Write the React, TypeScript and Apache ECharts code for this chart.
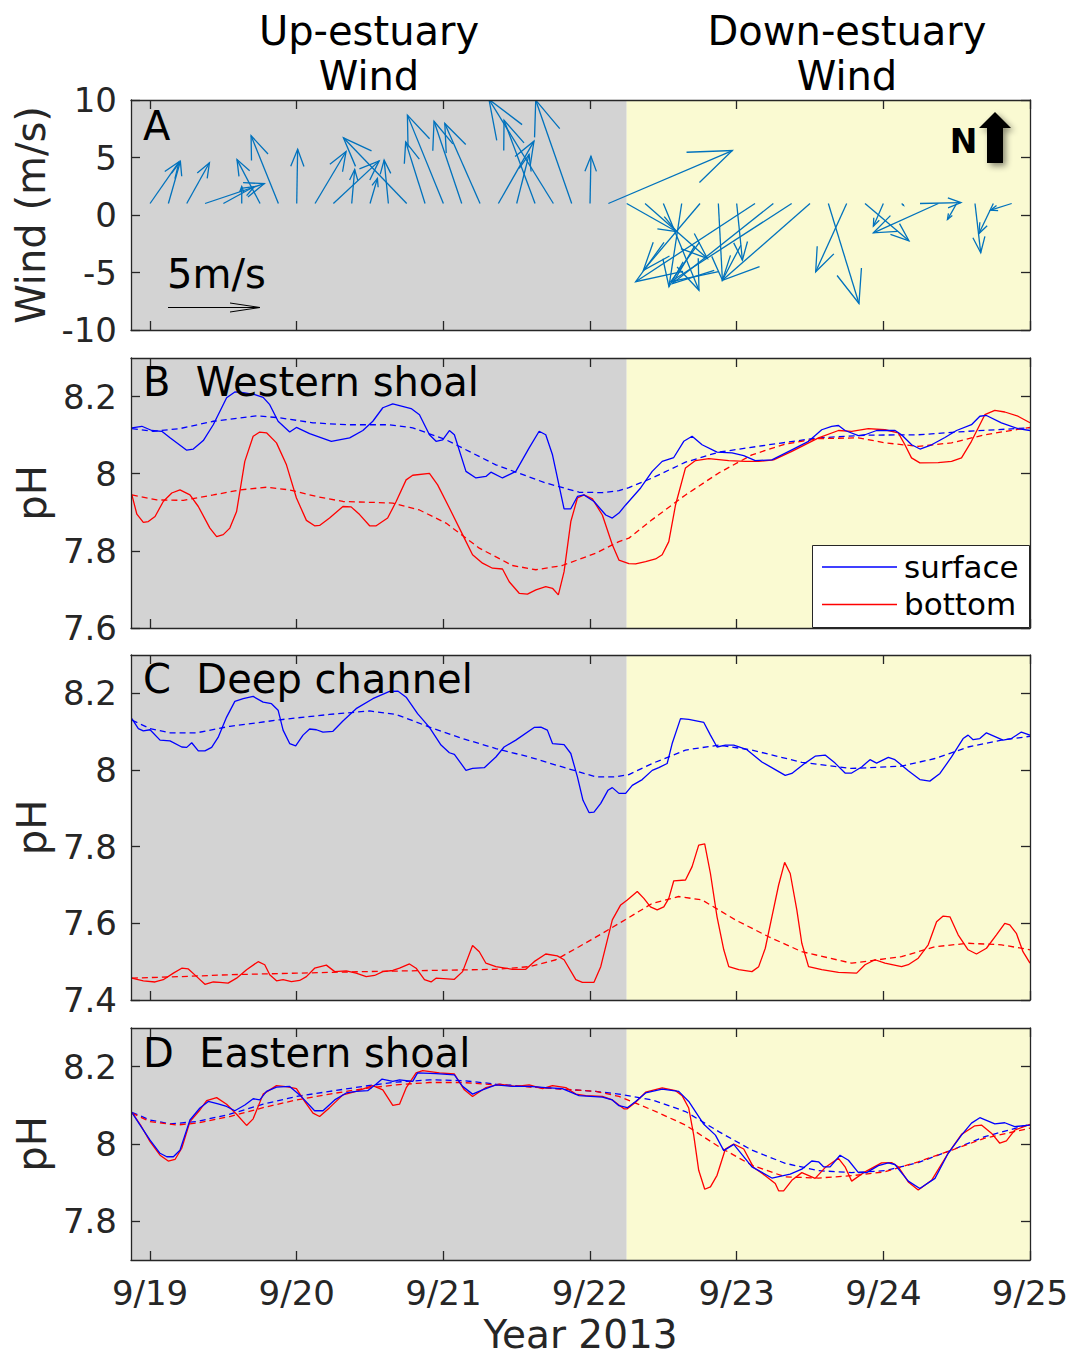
import React, { useEffect, useRef } from "react";
import * as echarts from "echarts";

// ---------- axes ----------
const X_MIN = 18.87;
const X_MAX = 25;
const SHIFT_T = 22.25; // change from up-estuary to down-estuary wind
const dayTicks = [19, 20, 21, 22, 23, 24, 25];
const yRanges = [[-10, 10], [7.6, 8.3], [7.4, 8.3], [7.7, 8.3]];
const yTicks = [[-10, -5, 0, 5, 10], [7.6, 7.8, 8, 8.2], [7.4, 7.6, 7.8, 8, 8.2], [7.8, 8, 8.2]];
const yNames = ["Wind (m/s)", "pH", "pH", "pH"];
const panelLabels = ["A", "B  Western shoal", "C  Deep channel", "D  Eastern shoal"];

// ---------- wind (3-hourly, m/s) ----------
const WIND_BASE = 1;
const windTime = [
  19, 19.125, 19.25, 19.375, 19.5, 19.625, 19.75, 19.875,
  20, 20.125, 20.25, 20.375, 20.5, 20.625, 20.75, 20.875,
  21, 21.125, 21.25, 21.375, 21.5, 21.625, 21.75, 21.875,
  22, 22.125, 22.25, 22.375, 22.5, 22.625, 22.75, 22.875,
  23, 23.125, 23.25, 23.375, 23.5, 23.625, 23.75, 23.875,
  24, 24.125, 24.25, 24.375, 24.5, 24.625, 24.75, 24.875,
];
const windU = [
  1.57, 0.65, 1.23, 3.21, 1.68, 0, -1.25, -1.48, 0.05, 1.68,
  2.48, 0.16, 0.4, -0.23, -3.43, -1.05, -1.95, -1.5, -1.91, 1.93,
  0.67, -1.68, -3.49, -1.95, 0.05, 6.72,
  2.71, 3.38, 1.93, -0.69, -3.07, 0.22, 0.31, -6.47, -5.47, -6.56,
  -4.75, 1.66, -1.68, 2.38, -0.54, 0.1, 2.22, -3.52, -0.5, 0.31,
  -0.78, -1.14,
];
const windV = [
  2.26, 2.28, 2.21, 1.08, 0.92, 0.92, 2.38, 3.67, 2.94, 2.82,
  2.31, 1.84, 1.36, 2.35, 3.56, 3.34, 4.79, 4.46, 4.34, 3.38,
  2.66, 4.51, 5.64, 5.6, 2.56, 2.87,
  -1.53, -2.98, -4.7, -4.51, -3.62, -4.16, -3.07, -4.24, -4.34, -4.24,
  -4.16, -5.42, -3.7, -2.02, -1.23, -0.1, 0.05, -1.59, -0.87, -2.67,
  -1.63, -0.36,
];

// ---------- B Western shoal ----------
const bSurf = [[18.876,8.119],[18.944,8.123],[19.012,8.112],[19.080,8.110],[19.136,8.093],[19.250,8.061],[19.295,8.064],[19.363,8.086],[19.431,8.127],[19.522,8.197],[19.578,8.212],[19.635,8.210],[19.714,8.205],[19.771,8.198],[19.816,8.179],[19.873,8.136],[19.952,8.108],[19.998,8.120],[20.088,8.104],[20.236,8.084],[20.361,8.093],[20.451,8.112],[20.519,8.136],[20.587,8.171],[20.655,8.181],[20.780,8.169],[20.837,8.153],[20.905,8.101],[20.950,8.084],[20.995,8.088],[21.041,8.112],[21.075,8.101],[21.154,8.006],[21.222,7.989],[21.290,7.993],[21.324,8.004],[21.403,7.989],[21.494,8.006],[21.585,8.067],[21.653,8.110],[21.698,8.101],[21.744,8.049],[21.823,7.909],[21.869,7.909],[21.914,7.941],[21.959,7.945],[22.027,7.928],[22.107,7.893],[22.152,7.885],[22.197,7.898],[22.243,7.919],[22.345,7.963],[22.424,8.006],[22.492,8.032],[22.571,8.042],[22.639,8.084],[22.696,8.097],[22.764,8.075],[22.866,8.056],[22.968,8.054],[23.048,8.047],[23.127,8.034],[23.240,8.036],[23.376,8.062],[23.490,8.084],[23.580,8.114],[23.648,8.123],[23.694,8.125],[23.739,8.112],[23.830,8.099],[23.875,8.101],[23.954,8.112],[24.080,8.112],[24.124,8.101],[24.193,8.075],[24.250,8.064],[24.329,8.075],[24.420,8.094],[24.499,8.112],[24.601,8.127],[24.658,8.149],[24.703,8.151],[24.805,8.132],[24.918,8.117],[25.0,8.112]];
const bSurfTrend = [[18.876,8.117],[19.022,8.110],[19.204,8.117],[19.431,8.136],[19.726,8.150],[19.884,8.145],[20.111,8.132],[20.338,8.127],[20.633,8.127],[20.791,8.119],[21.018,8.088],[21.358,8.023],[21.698,7.976],[21.925,7.952],[22.084,7.951],[22.197,7.956],[22.265,7.964],[22.424,7.989],[22.651,8.030],[22.878,8.056],[23.218,8.075],[23.558,8.093],[23.898,8.100],[24.238,8.101],[24.578,8.110],[25.0,8.119]];
const bBot = [[18.876,7.945],[18.910,7.895],[18.954,7.874],[18.988,7.876],[19.034,7.889],[19.090,7.928],[19.148,7.950],[19.204,7.958],[19.272,7.945],[19.329,7.915],[19.408,7.859],[19.454,7.837],[19.499,7.842],[19.544,7.859],[19.590,7.902],[19.646,8.032],[19.703,8.097],[19.748,8.108],[19.794,8.106],[19.862,8.080],[19.930,8.023],[19.998,7.937],[20.066,7.879],[20.122,7.865],[20.156,7.866],[20.224,7.885],[20.315,7.915],[20.371,7.914],[20.429,7.894],[20.497,7.865],[20.542,7.865],[20.620,7.885],[20.678,7.928],[20.746,7.984],[20.791,7.996],[20.905,8.001],[20.961,7.971],[21.041,7.911],[21.131,7.842],[21.199,7.790],[21.267,7.768],[21.335,7.755],[21.403,7.753],[21.449,7.720],[21.517,7.690],[21.573,7.688],[21.631,7.699],[21.698,7.707],[21.744,7.703],[21.784,7.686],[21.823,7.746],[21.869,7.876],[21.914,7.937],[21.959,7.945],[22.016,7.935],[22.084,7.893],[22.152,7.816],[22.197,7.776],[22.265,7.767],[22.311,7.766],[22.379,7.772],[22.447,7.779],[22.492,7.790],[22.537,7.824],[22.583,7.919],[22.651,8.015],[22.719,8.034],[22.810,8.039],[22.946,8.034],[23.059,8.032],[23.150,8.032],[23.252,8.036],[23.376,8.058],[23.558,8.093],[23.694,8.112],[23.784,8.110],[23.898,8.117],[24.011,8.114],[24.102,8.106],[24.147,8.075],[24.192,8.041],[24.249,8.028],[24.374,8.029],[24.465,8.032],[24.533,8.041],[24.601,8.084],[24.692,8.153],[24.760,8.164],[24.828,8.160],[24.918,8.149],[25.0,8.132]];
const bBotTrend = [[18.876,7.945],[19.046,7.932],[19.227,7.931],[19.431,7.945],[19.612,7.958],[19.794,7.965],[19.952,7.958],[20.134,7.941],[20.315,7.928],[20.655,7.924],[20.837,7.906],[21.018,7.872],[21.245,7.807],[21.471,7.762],[21.631,7.751],[21.811,7.762],[22.039,7.794],[22.197,7.824],[22.265,7.833],[22.424,7.881],[22.651,7.945],[22.878,8.002],[23.104,8.049],[23.331,8.077],[23.558,8.091],[23.830,8.093],[24.011,8.080],[24.238,8.071],[24.465,8.080],[24.692,8.101],[25.0,8.120]];

// ---------- C Deep channel ----------
const cSurf = [[18.876,8.134],[18.920,8.108],[18.954,8.102],[19.000,8.105],[19.068,8.078],[19.136,8.076],[19.216,8.060],[19.250,8.059],[19.284,8.071],[19.329,8.050],[19.374,8.050],[19.420,8.059],[19.464,8.085],[19.522,8.138],[19.578,8.179],[19.635,8.186],[19.703,8.192],[19.771,8.177],[19.828,8.173],[19.873,8.156],[19.907,8.104],[19.952,8.069],[19.993,8.063],[20.043,8.091],[20.088,8.107],[20.134,8.105],[20.179,8.099],[20.247,8.101],[20.315,8.128],[20.405,8.160],[20.519,8.186],[20.633,8.205],[20.689,8.206],[20.746,8.190],[20.824,8.147],[20.905,8.111],[20.984,8.065],[21.041,8.045],[21.075,8.041],[21.154,7.999],[21.199,8.004],[21.279,8.006],[21.358,8.034],[21.414,8.060],[21.494,8.078],[21.619,8.111],[21.665,8.112],[21.709,8.104],[21.744,8.069],[21.823,8.066],[21.869,8.043],[21.914,7.982],[21.952,7.921],[21.993,7.889],[22.027,7.890],[22.073,7.913],[22.122,7.947],[22.152,7.954],[22.197,7.939],[22.243,7.939],[22.288,7.960],[22.356,7.975],[22.424,7.999],[22.469,8.006],[22.526,8.017],[22.560,8.069],[22.617,8.134],[22.673,8.132],[22.776,8.124],[22.821,8.091],[22.866,8.060],[22.923,8.065],[22.980,8.065],[23.070,8.053],[23.172,8.021],[23.263,8.001],[23.331,7.986],[23.376,7.991],[23.467,8.018],[23.535,8.036],[23.603,8.039],[23.671,8.018],[23.739,7.992],[23.784,7.992],[23.852,8.008],[23.909,8.027],[23.954,8.018],[24.034,8.033],[24.079,8.027],[24.170,7.998],[24.249,7.975],[24.317,7.971],[24.386,7.991],[24.465,8.034],[24.544,8.082],[24.578,8.091],[24.612,8.079],[24.658,8.082],[24.703,8.097],[24.816,8.078],[24.873,8.082],[24.941,8.099],[25.0,8.091]];
const cSurfTrend = [[18.876,8.130],[19.000,8.108],[19.136,8.097],[19.318,8.097],[19.544,8.114],[19.884,8.131],[20.224,8.145],[20.497,8.154],[20.678,8.145],[20.905,8.112],[21.131,8.082],[21.358,8.056],[21.585,8.034],[21.811,8.008],[22.039,7.982],[22.175,7.982],[22.265,7.988],[22.424,8.017],[22.651,8.052],[22.878,8.065],[23.104,8.052],[23.444,8.020],[23.784,8.004],[24.124,8.010],[24.352,8.030],[24.578,8.060],[24.805,8.078],[25.0,8.088]];
const cBot = [[18.876,7.457],[18.954,7.450],[19.034,7.447],[19.090,7.453],[19.159,7.470],[19.216,7.483],[19.261,7.481],[19.318,7.461],[19.374,7.441],[19.431,7.447],[19.476,7.446],[19.532,7.444],[19.590,7.457],[19.658,7.479],[19.737,7.500],[19.782,7.492],[19.816,7.466],[19.862,7.450],[19.907,7.453],[19.964,7.448],[20.020,7.451],[20.066,7.461],[20.122,7.483],[20.202,7.491],[20.259,7.474],[20.338,7.476],[20.405,7.470],[20.474,7.461],[20.531,7.464],[20.587,7.474],[20.655,7.477],[20.701,7.483],[20.769,7.494],[20.814,7.483],[20.871,7.453],[20.916,7.447],[20.950,7.457],[21.075,7.454],[21.131,7.474],[21.199,7.542],[21.245,7.526],[21.290,7.496],[21.358,7.487],[21.471,7.480],[21.562,7.480],[21.619,7.500],[21.698,7.520],[21.777,7.515],[21.823,7.505],[21.903,7.453],[21.948,7.446],[22.027,7.446],[22.073,7.487],[22.152,7.609],[22.209,7.648],[22.254,7.661],[22.322,7.683],[22.367,7.665],[22.412,7.643],[22.458,7.635],[22.503,7.643],[22.537,7.665],[22.571,7.711],[22.651,7.713],[22.696,7.748],[22.741,7.804],[22.782,7.807],[22.821,7.730],[22.866,7.617],[22.912,7.531],[22.946,7.487],[23.014,7.479],[23.104,7.474],[23.150,7.487],[23.195,7.535],[23.240,7.617],[23.286,7.700],[23.327,7.759],[23.365,7.730],[23.410,7.635],[23.444,7.548],[23.490,7.487],[23.580,7.479],[23.694,7.472],[23.818,7.470],[23.875,7.492],[23.943,7.505],[24.011,7.496],[24.124,7.487],[24.170,7.492],[24.238,7.509],[24.306,7.544],[24.363,7.604],[24.408,7.619],[24.454,7.617],[24.510,7.570],[24.578,7.531],[24.635,7.520],[24.703,7.535],[24.771,7.570],[24.828,7.600],[24.862,7.596],[24.907,7.574],[24.952,7.526],[25.0,7.496]];
const cBotTrend = [[18.876,7.457],[19.204,7.461],[19.544,7.466],[19.998,7.470],[20.451,7.474],[20.905,7.477],[21.358,7.480],[21.585,7.487],[21.767,7.505],[21.925,7.539],[22.084,7.574],[22.243,7.610],[22.424,7.652],[22.605,7.670],[22.764,7.661],[22.991,7.609],[23.218,7.565],[23.444,7.526],[23.784,7.496],[24.124,7.513],[24.352,7.539],[24.578,7.548],[24.805,7.544],[25.0,7.531]];

// ---------- D Eastern shoal ----------
const dSurf = [[18.876,8.082],[18.932,8.049],[19.000,8.010],[19.068,7.976],[19.114,7.967],[19.159,7.967],[19.204,7.984],[19.272,8.062],[19.340,8.093],[19.397,8.110],[19.464,8.104],[19.522,8.097],[19.578,8.086],[19.646,8.101],[19.703,8.117],[19.748,8.114],[19.794,8.136],[19.862,8.147],[19.952,8.149],[20.020,8.127],[20.122,8.086],[20.179,8.086],[20.259,8.114],[20.338,8.132],[20.405,8.136],[20.484,8.138],[20.542,8.155],[20.582,8.168],[20.655,8.162],[20.701,8.166],[20.791,8.162],[20.824,8.184],[20.950,8.182],[21.075,8.179],[21.131,8.149],[21.199,8.129],[21.267,8.140],[21.358,8.153],[21.471,8.149],[21.585,8.149],[21.698,8.146],[21.811,8.143],[21.925,8.125],[22.084,8.121],[22.152,8.114],[22.197,8.099],[22.254,8.094],[22.311,8.110],[22.379,8.132],[22.492,8.142],[22.605,8.136],[22.673,8.110],[22.776,8.051],[22.855,8.023],[22.912,7.983],[22.980,7.999],[23.104,7.941],[23.240,7.912],[23.365,7.922],[23.444,7.935],[23.512,7.956],[23.558,7.954],[23.592,7.941],[23.637,7.941],[23.705,7.971],[23.762,7.958],[23.830,7.926],[23.886,7.926],[23.966,7.944],[24.034,7.951],[24.079,7.947],[24.170,7.904],[24.249,7.885],[24.352,7.911],[24.442,7.976],[24.533,8.023],[24.601,8.054],[24.658,8.068],[24.760,8.052],[24.828,8.055],[24.896,8.045],[25.0,8.049]];
const dSurfTrend = [[18.876,8.082],[19.000,8.062],[19.136,8.052],[19.318,8.058],[19.544,8.077],[19.771,8.103],[19.998,8.123],[20.224,8.136],[20.451,8.149],[20.678,8.160],[20.905,8.166],[21.131,8.164],[21.358,8.155],[21.698,8.145],[22.039,8.136],[22.197,8.129],[22.424,8.114],[22.651,8.084],[22.878,8.032],[23.104,7.984],[23.331,7.950],[23.558,7.931],[23.784,7.926],[24.011,7.931],[24.238,7.952],[24.465,7.984],[24.692,8.019],[25.0,8.051]];
const dBot = [[18.876,8.082],[18.932,8.051],[19.000,8.006],[19.068,7.971],[19.124,7.956],[19.170,7.960],[19.216,7.989],[19.272,8.058],[19.340,8.088],[19.386,8.112],[19.454,8.120],[19.522,8.103],[19.590,8.077],[19.658,8.048],[19.703,8.065],[19.771,8.129],[19.862,8.151],[19.940,8.148],[19.998,8.143],[20.054,8.110],[20.111,8.080],[20.156,8.071],[20.224,8.094],[20.315,8.127],[20.405,8.136],[20.519,8.151],[20.587,8.140],[20.655,8.100],[20.701,8.103],[20.746,8.145],[20.814,8.184],[20.859,8.190],[20.973,8.184],[21.075,8.181],[21.143,8.140],[21.199,8.123],[21.290,8.146],[21.381,8.155],[21.494,8.149],[21.585,8.153],[21.676,8.143],[21.744,8.151],[21.835,8.146],[21.903,8.129],[21.971,8.125],[22.084,8.123],[22.152,8.114],[22.231,8.091],[22.254,8.091],[22.311,8.108],[22.379,8.134],[22.492,8.145],[22.583,8.138],[22.628,8.125],[22.673,8.093],[22.707,8.023],[22.741,7.932],[22.782,7.883],[22.821,7.889],[22.866,7.919],[22.923,7.987],[22.980,8.000],[23.048,7.987],[23.116,7.939],[23.195,7.918],[23.263,7.898],[23.286,7.879],[23.320,7.879],[23.376,7.906],[23.444,7.926],[23.535,7.911],[23.603,7.939],[23.694,7.963],[23.739,7.941],[23.784,7.904],[23.875,7.928],[23.988,7.951],[24.056,7.952],[24.102,7.941],[24.170,7.902],[24.238,7.881],[24.329,7.906],[24.442,7.976],[24.533,8.025],[24.624,8.047],[24.669,8.049],[24.737,8.028],[24.794,8.002],[24.839,8.008],[24.896,8.036],[25.0,8.051]];
const dBotTrend = [[18.876,8.080],[19.000,8.058],[19.182,8.049],[19.318,8.054],[19.544,8.071],[19.771,8.094],[19.998,8.114],[20.224,8.129],[20.451,8.143],[20.678,8.153],[20.905,8.159],[21.131,8.159],[21.358,8.153],[21.698,8.145],[22.039,8.136],[22.197,8.123],[22.424,8.088],[22.651,8.049],[22.878,7.993],[23.104,7.945],[23.331,7.915],[23.558,7.912],[23.784,7.918],[24.011,7.928],[24.238,7.954],[24.465,7.984],[24.692,8.015],[25.0,8.041]];

const panelSeries = [
  { surf: bSurf, bot: bBot, surfTrend: bSurfTrend, botTrend: bBotTrend },
  { surf: cSurf, bot: cBot, surfTrend: cSurfTrend, botTrend: cBotTrend },
  { surf: dSurf, bot: dBot, surfTrend: dSurfTrend, botTrend: dBotTrend },
];

// ---------- styles ----------
const FONT = "DejaVu Sans";
const AXIS_COLOR = "#262626";
const SHADE = ["#d3d3d3", "#fafad2"];
const BLUE = "#0000ff";
const RED = "#ff0000";
const QUIVER = "#0072bd";
const WIND_PX_PER_MS = 18.45;

const grids = [
  { left: 131, top: 100, width: 899, height: 230 },
  { left: 131, top: 358, width: 899, height: 270 },
  { left: 131, top: 655, width: 899, height: 345 },
  { left: 131, top: 1028, width: 899, height: 232 },
];

function buildOption() {
  const axisLine = { show: true, onZero: false, lineStyle: { color: AXIS_COLOR, width: 1.3 } };
  const tick = (vals: number[]) => ({
    show: true, inside: true, length: 9, customValues: vals,
    lineStyle: { color: AXIS_COLOR, width: 1.3 },
  });
  const xAxis: any[] = [];
  const yAxis: any[] = [];
  grids.forEach((_, i) => {
    xAxis.push({
      type: "value", gridIndex: i, min: X_MIN, max: X_MAX, position: "bottom", z: 5,
      axisLine, axisTick: tick(dayTicks), splitLine: { show: false },
      axisLabel: {
        show: i === 3, customValues: dayTicks, margin: 16, fontSize: 34, fontFamily: FONT, color: AXIS_COLOR,
        formatter: (v: number) => "9/" + Math.round(v),
      },
      name: i === 3 ? "Year 2013" : "", nameLocation: "middle", nameGap: 55,
      nameTextStyle: { fontSize: 39, lineHeight: 39, fontFamily: FONT, color: AXIS_COLOR },
    });
  });
  grids.forEach((_, i) => {
    xAxis.push({
      type: "value", gridIndex: i, min: X_MIN, max: X_MAX, position: "top", z: 5,
      axisLine, axisTick: tick(dayTicks), splitLine: { show: false }, axisLabel: { show: false },
    });
  });
  grids.forEach((_, i) => {
    yAxis.push({
      type: "value", gridIndex: i, min: yRanges[i][0], max: yRanges[i][1], position: "left", z: 5,
      axisLine, axisTick: tick(yTicks[i]), splitLine: { show: false },
      axisLabel: {
        show: true, customValues: yTicks[i], margin: 14, fontSize: 34, fontFamily: FONT, color: AXIS_COLOR,
        formatter: (v: number) => String(Number(v.toFixed(1))),
      },
      name: yNames[i], nameLocation: "middle", nameGap: i === 0 ? 80 : 76,
      nameTextStyle: { fontSize: 40, fontFamily: FONT, color: AXIS_COLOR },
    });
  });
  grids.forEach((_, i) => {
    yAxis.push({
      type: "value", gridIndex: i, min: yRanges[i][0], max: yRanges[i][1], position: "right", z: 5,
      axisLine, axisTick: tick(yTicks[i]), splitLine: { show: false }, axisLabel: { show: false },
    });
  });

  const series: any[] = [];
  // background shading (up-estuary grey / down-estuary yellow)
  grids.forEach((_, i) => {
    series.push({
      type: "custom", xAxisIndex: i, yAxisIndex: i, z: 1, silent: true, clip: true,
      data: [[X_MIN, SHIFT_T, 0], [SHIFT_T, X_MAX, 1]],
      renderItem: (params: any, api: any) => {
        const cs = params.coordSys;
        const y0 = yRanges[i][0];
        const x0 = api.coord([api.value(0), y0])[0];
        const x1 = api.coord([api.value(1), y0])[0];
        return {
          type: "rect",
          shape: { x: x0, y: cs.y, width: x1 - x0, height: cs.height },
          style: { fill: SHADE[api.value(2)] },
        };
      },
    });
  });

  // wind quiver
  series.push({
    type: "custom", xAxisIndex: 0, yAxisIndex: 0, z: 3, silent: true, clip: true,
    data: windTime.map((t, k) => [t, windU[k], windV[k]]),
    renderItem: (_params: any, api: any) => {
      const t = api.value(0), u = api.value(1), v = api.value(2);
      const b = api.coord([t, WIND_BASE]);
      const dx = u * WIND_PX_PER_MS, dy = -v * WIND_PX_PER_MS;
      const tip = [b[0] + dx, b[1] + dy];
      const L = Math.hypot(dx, dy);
      const children: any[] = [
        { type: "line", shape: { x1: b[0], y1: b[1], x2: tip[0], y2: tip[1] }, style: { stroke: QUIVER, lineWidth: 1.3 } },
      ];
      if (L > 0.5) {
        const ang = Math.atan2(dy, dx);
        const h = 0.34 * L, a = (21 * Math.PI) / 180;
        const p1 = [tip[0] - h * Math.cos(ang - a), tip[1] - h * Math.sin(ang - a)];
        const p2 = [tip[0] - h * Math.cos(ang + a), tip[1] - h * Math.sin(ang + a)];
        children.push({ type: "polyline", shape: { points: [p1, tip, p2] }, style: { stroke: QUIVER, lineWidth: 1.3, fill: null } });
      }
      return { type: "group", children };
    },
  });

  // pH lines
  panelSeries.forEach((p, k) => {
    const gi = k + 1;
    const line = (name: string, data: number[][], color: string, dashed: boolean) => ({
      type: "line", name, xAxisIndex: gi, yAxisIndex: gi, data, z: 3, silent: true,
      symbol: "none", showSymbol: false, smooth: false, clip: true,
      lineStyle: { color, width: 1.3, type: dashed ? [6, 4] : "solid" },
      itemStyle: { color },
    });
    series.push(line("surface trend", p.surfTrend, BLUE, true));
    series.push(line("bottom trend", p.botTrend, RED, true));
    series.push(line("bottom", p.bot, RED, false));
    series.push(line("surface", p.surf, BLUE, false));
  });

  const txt = (text: string, x: number, y: number, size: number, align = "left", weight = "normal") => ({
    type: "text", x, y, z: 50, silent: true,
    style: { text, fontSize: size, fontFamily: FONT, fontWeight: weight, fill: "#000", align, verticalAlign: "middle" },
  });

  const graphics: any[] = [
    txt("Up-estuary", 369, 31, 40, "center"),
    txt("Wind", 369, 76, 40, "center"),
    txt("Down-estuary", 847, 31, 40, "center"),
    txt("Wind", 847, 76, 40, "center"),
    txt(panelLabels[0], 143, 126, 40),
    txt(panelLabels[1], 143, 382, 40),
    txt(panelLabels[2], 143, 679, 40),
    txt(panelLabels[3], 143, 1053, 40),
    // 5 m/s reference arrow
    txt("5m/s", 167, 274, 40),
    { type: "line", z: 50, shape: { x1: 168, y1: 307.5, x2: 260, y2: 307.5 }, style: { stroke: "#000", lineWidth: 1 } },
    { type: "polyline", z: 50, shape: { points: [[230, 303], [260, 307.5], [230, 312]] }, style: { stroke: "#000", lineWidth: 1, fill: null } },
    // north arrow
    txt("N", 963.5, 141, 33, "center", "bold"),
    {
      type: "polygon", z: 50,
      shape: { points: [[995, 112], [1011, 128], [1003, 128], [1003, 163], [987, 163], [987, 128], [979, 128]] },
      style: { fill: "#000", shadowBlur: 6, shadowColor: "rgba(0,0,0,0.45)", shadowOffsetX: 3, shadowOffsetY: 3 },
    },
    // legend in panel B
    { type: "rect", z: 60, shape: { x: 812.5, y: 545.5, width: 217, height: 82 }, style: { fill: "#fff", stroke: "#262626", lineWidth: 1 } },
    { type: "line", z: 61, shape: { x1: 822, y1: 567, x2: 897, y2: 567 }, style: { stroke: BLUE, lineWidth: 1.3 } },
    { type: "line", z: 61, shape: { x1: 822, y1: 604.5, x2: 897, y2: 604.5 }, style: { stroke: RED, lineWidth: 1.3 } },
    { ...txt("surface", 904, 567, 31), z: 61 },
    { ...txt("bottom", 904, 604, 31), z: 61 },
  ];

  return {
    animation: false,
    backgroundColor: "#ffffff",
    grid: grids.map((g) => ({ ...g, containLabel: false })),
    xAxis,
    yAxis,
    series,
    graphic: { elements: graphics },
  };
}

export default function App() {
  const ref = useRef<HTMLDivElement>(null);
  useEffect(() => {
    if (!ref.current) return;
    const chart = echarts.init(ref.current, null, { renderer: "svg" });
    chart.setOption(buildOption() as any);
    return () => chart.dispose();
  }, []);
  return (
    <div
      ref={ref}
      style={{ position: "absolute", left: 0, top: 0, width: 1072, height: 1357, background: "#fff" }}
    />
  );
}
